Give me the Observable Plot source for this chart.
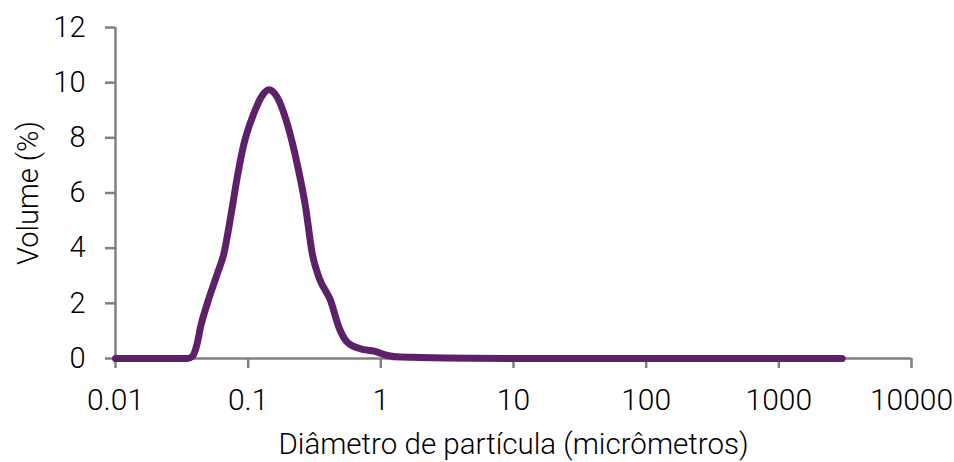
<!DOCTYPE html>
<html>
<head>
<meta charset="utf-8">
<script src="https://cdn.jsdelivr.net/npm/d3@7"></script>
<script src="https://cdn.jsdelivr.net/npm/@observablehq/plot@0.6"></script>
<style>
  html, body { margin: 0; padding: 0; background: #fff; }
</style>
</head>
<body>
<div id="chart"></div>
<script>
const diameters = [0.01, 0.02, 0.03, 0.035, 0.038, 0.0413, 0.0437, 0.0491, 0.0585, 0.0656, 0.0737, 0.0827, 0.0929, 0.110, 0.128, 0.1434, 0.1655, 0.197, 0.234, 0.271, 0.304, 0.341, 0.418, 0.483, 0.559, 0.704, 0.891, 1.12, 1.41, 2, 3, 5, 10, 100, 1000, 3000];
const volumes   = [0,    0,    0,    0,     0.08,  0.55,   1.13,   1.98,   3.07,   3.80,   5.12,   6.57,   7.78,   8.87,  9.54,  9.74,   9.47,   8.51,  7.06,  5.49,  3.80,  2.95,  2.10,  1.13,  0.59,  0.35,  0.27,  0.11, 0.05, 0.04, 0.02, 0.01, 0, 0, 0, 0];
const xTicks = [0.01, 0.1, 1, 10, 100, 1000, 10000];
const xTickLabels = ["0.01", "0.1", "1", "10", "100", "1000", "10000"];
const yTicks = [0, 2, 4, 6, 8, 10, 12];
const xTitle = "Diâmetro de partícula (micrômetros)";
const yTitle = "Volume (%)";

const data = diameters.map((d, i) => ({d, v: volumes[i]}));

const axisColor = "#808080";
const font = "Roboto";

const chart = Plot.plot({
  width: 954,
  height: 462,
  marginLeft: 115,
  marginRight: 43,
  marginTop: 27,
  marginBottom: 104,
  style: {fontFamily: font, fontSize: "29px", fontWeight: 300, color: "#000", background: "#fff"},
  x: {type: "log", domain: [0.01, 10000]},
  y: {domain: [0, 12]},
  marks: [
    Plot.ruleX([0.01], {stroke: axisColor, strokeWidth: 2.5}),
    Plot.ruleY([0], {stroke: axisColor, strokeWidth: 2.5}),
    Plot.axisY({
      ticks: yTicks, tickSize: 10, tickPadding: 20, stroke: axisColor, strokeWidth: 2.5,
      fontSize: 29, fill: "#000", label: null, tickFormat: d => String(d)
    }),
    Plot.axisX({
      ticks: xTicks, tickSize: 10, tickPadding: 20, stroke: axisColor, strokeWidth: 2.5,
      fontSize: 30, fill: "#000", label: null,
      tickFormat: d => xTickLabels[xTicks.indexOf(d)]
    }),
    Plot.line(data, {x: "d", y: "v", stroke: "#5c2168", strokeWidth: 7, curve: "monotone-x", strokeLinecap: "round", strokeLinejoin: "round"}),
    Plot.text([xTitle], {frameAnchor: "bottom", lineAnchor: "middle", textAnchor: "middle", dy: 86, fontSize: 29.5, fill: "#000"}),
    Plot.text([yTitle], {frameAnchor: "left", lineAnchor: "middle", textAnchor: "middle", dx: -87, rotate: -90, fontSize: 29, fill: "#000"})
  ]
});
document.getElementById("chart").appendChild(chart);
</script>
</body>
</html>
